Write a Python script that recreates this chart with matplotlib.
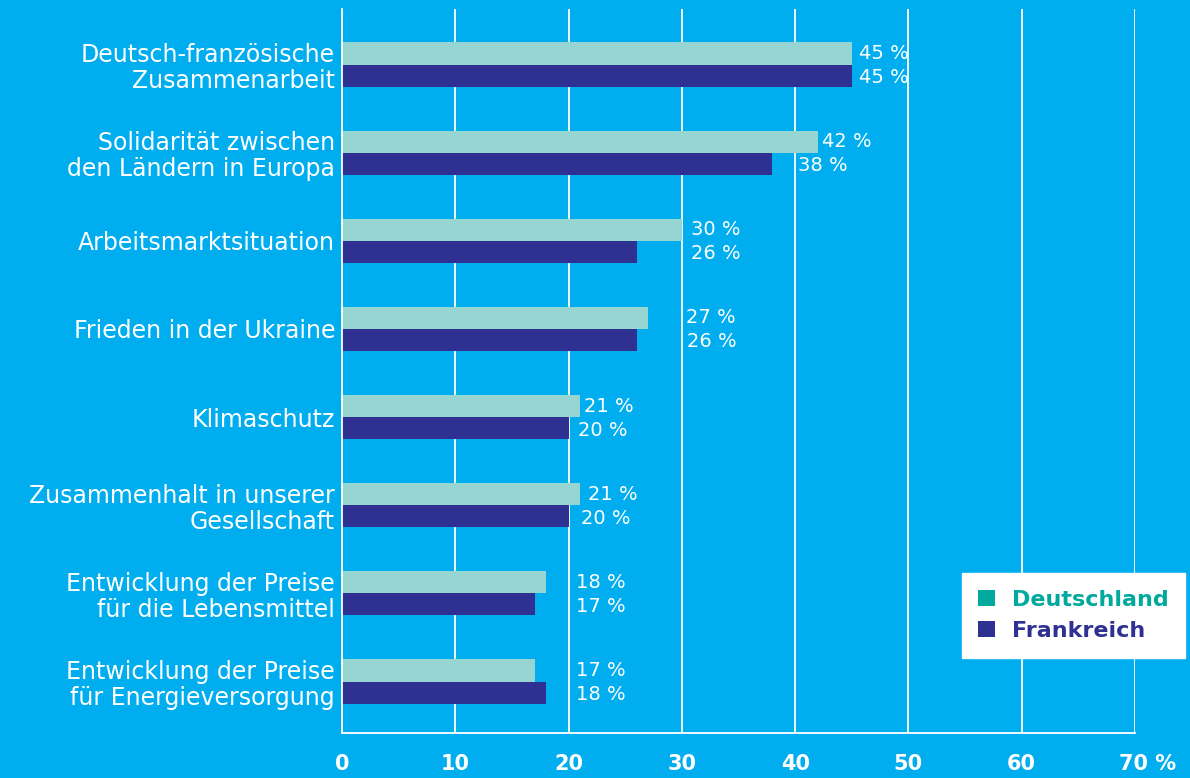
import matplotlib
matplotlib.use("Agg")
import matplotlib.pyplot as plt
import matplotlib.transforms as mtransforms
from matplotlib.patches import Patch
import numpy as np

# data
categories = [
    "Deutsch-französische\nZusammenarbeit",
    "Solidarität zwischen\nden Ländern in Europa",
    "Arbeitsmarktsituation",
    "Frieden in der Ukraine",
    "Klimaschutz",
    "Zusammenhalt in unserer\nGesellschaft",
    "Entwicklung der Preise\nfür die Lebensmittel",
    "Entwicklung der Preise\nfür Energieversorgung",
]
deutschland = [45, 42, 30, 27, 21, 21, 18, 17]
frankreich = [45, 38, 26, 26, 20, 20, 17, 18]
series_names = ["Deutschland", "Frankreich"]
xticks = [0, 10, 20, 30, 40, 50, 60, 70]
xtick_labels = ["0", "10", "20", "30", "40", "50", "60", "70 %"]

# label gap after bar end, in pixels (labels are hand placed in the original)
pad_de = [7, 4, 9, 38, 4, 8, 30, 41]
pad_fr = [7, 26, 54, 50, 9, 12, 41, 30]

BG = "#00AEEF"
C_DE = "#97D5D3"
C_FR = "#2E3192"
C_DE_LEG = "#00A99D"
FONT = "DejaVu Sans"

fig = plt.figure(figsize=(11.9, 7.78), dpi=100, facecolor=BG)
ax = fig.add_axes([342 / 1190, 1 - 733 / 778, 793 / 1190, 724 / 778])
ax.set_facecolor(BG)

y = np.arange(len(categories))
h = 0.25
ax.barh(y - h / 2, deutschland, height=h, color=C_DE, zorder=3)
ax.barh(y + h / 2, frankreich, height=h, color=C_FR, zorder=3)

for i in range(len(categories)):
    ax.annotate(f"{deutschland[i]} %", (deutschland[i], y[i] - h / 2),
                xytext=(pad_de[i], 0), textcoords="offset pixels",
                ha="left", va="center", color="white", fontsize=14, family=FONT)
    ax.annotate(f"{frankreich[i]} %", (frankreich[i], y[i] + h / 2),
                xytext=(pad_fr[i], -2), textcoords="offset pixels",
                ha="left", va="center", color="white", fontsize=14, family=FONT)

ax.set_xlim(0, 70)
ax.set_ylim(7.584, -0.63)
ax.set_xticks(xticks)
ax.set_xticklabels(xtick_labels, color="white", fontsize=15, fontweight="bold", family=FONT)
ax.set_yticks(y)
ax.set_yticklabels(categories, color="white", fontsize=17, family=FONT, linespacing=1.12)
ax.tick_params(axis="x", length=0, pad=15)
ax.tick_params(axis="y", length=0, pad=5)

# shift the "70 %" label so the number sits on its gridline
lbl = ax.get_xticklabels()[-1]
lbl.set_horizontalalignment("left")
lbl.set_transform(lbl.get_transform() + mtransforms.ScaledTranslation(-16 / 100, 0, fig.dpi_scale_trans))

ax.grid(axis="x", color="white", linewidth=1.3, zorder=1)
for s in ["top", "right"]:
    ax.spines[s].set_visible(False)
ax.spines["left"].set_color("white")
ax.spines["bottom"].set_color("white")
ax.spines["left"].set_linewidth(1.3)
ax.spines["bottom"].set_linewidth(1.3)
ax.spines["left"].set_zorder(4)

handles = [Patch(facecolor=C_DE_LEG), Patch(facecolor=C_FR)]
leg = fig.legend(handles, series_names, loc="center",
                 bbox_to_anchor=(1073.5 / 1190, 1 - 615.5 / 778),
                 frameon=True, fancybox=False, framealpha=1, edgecolor="white",
                 facecolor="white", borderpad=0.75, handlelength=0.75, handleheight=0.75,
                 handletextpad=0.75, labelspacing=0.5,
                 prop={"family": FONT, "weight": "bold", "size": 16})
leg.get_texts()[0].set_color(C_DE_LEG)
leg.get_texts()[1].set_color(C_FR)

fig.savefig("out.png", dpi=100, facecolor=BG)
